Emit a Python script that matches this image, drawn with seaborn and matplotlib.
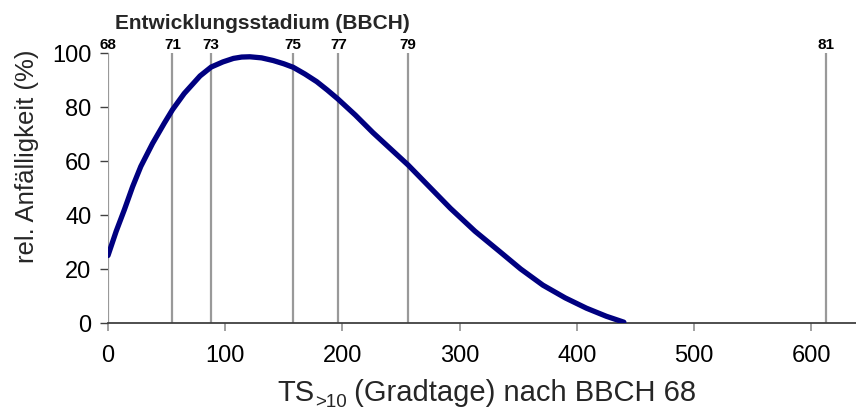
import matplotlib
matplotlib.use("Agg")
import matplotlib.pyplot as plt
import matplotlib.transforms as mtransforms
import seaborn as sns
import pandas as pd

# Data
ts_x = [0, 7, 14, 21, 28, 38, 48, 55, 65, 78.5, 88, 98, 107, 114, 121, 131, 141, 150,
        158, 168, 178, 187, 196, 211, 226, 241, 256, 274, 292, 313, 334, 352, 371,
        390, 408, 425, 440]
anf_y = [25, 34, 42, 50.5, 58, 66.5, 74, 79, 85, 91.5, 94.8, 96.7, 98, 98.5, 98.6, 98.2,
         97.2, 96, 94.7, 92.2, 89.4, 86.3, 83, 77, 70.5, 64.5, 58.5, 50.5, 42.5, 34,
         26.5, 20, 14, 9.3, 5.5, 2.5, 0.3]

bbch_labels = ["68", "71", "73", "75", "77", "79", "81"]
bbch_pos = [0, 55, 88, 158, 196.5, 256, 612.5]

x_ticks = [0, 100, 200, 300, 400, 500, 600]
y_ticks = [0, 20, 40, 60, 80, 100]

sns.set_style("white")
plt.rcParams["font.family"] = ["Liberation Sans", "DejaVu Sans"]

W, H = 856, 412
fig = plt.figure(figsize=(W / 100, H / 100), dpi=100)
ax = fig.add_axes([108 / W, (H - 323) / H, (856 - 108) / W, 270 / H])

# BBCH vertical lines
for pos in bbch_pos:
    ax.axvline(pos, ymin=0, ymax=1, color="#999999", lw=1.6, zorder=1)
trans = mtransforms.blended_transform_factory(ax.transData, ax.transAxes)
for pos, lab in zip(bbch_pos, bbch_labels):
    ax.text(pos, 1.005, lab, transform=trans, ha="center", va="bottom",
            fontsize=11, fontweight="bold", color="black")

df = pd.DataFrame({"x": ts_x, "y": anf_y})
sns.lineplot(data=df, x="x", y="y", ax=ax, color="#000080", lw=3.8, zorder=3,
             solid_capstyle="round", solid_joinstyle="round")

ax.set_xlim(0, 638)
ax.set_ylim(0, 100)
ax.set_xticks(x_ticks)
ax.set_yticks(y_ticks)
ax.set_xlabel("")
ax.set_ylabel("")

for s in ["top", "right", "left"]:
    ax.spines[s].set_visible(False)
ax.spines["bottom"].set_color("#404040")
ax.spines["bottom"].set_linewidth(1.3)
ax.spines["bottom"].set_zorder(2)

ax.tick_params(axis="x", which="major", direction="out", length=6, width=1.3,
               color="#999999", labelsize=17, pad=10, bottom=True, labelcolor="black")
ax.tick_params(axis="y", which="major", direction="out", length=6, width=1.0,
               color="#404040", labelsize=17, pad=6, left=True, labelcolor="black")
ax.grid(False)

fig.text(262 / W, (H - 29) / H, "Entwicklungsstadium (BBCH)", ha="center", va="baseline",
         fontsize=15, fontweight="bold")
fig.text(27 / W, (H - 156) / H, "rel. Anfälligkeit (%)", rotation=90, ha="center",
         va="center", fontsize=18.5)

# x-axis label with subscript, built from pieces
t1 = fig.text(277 / W, (H - 401) / H, "TS", ha="left", va="baseline", fontsize=21)
t2 = fig.text(0, 0, ">10", ha="left", va="baseline", fontsize=13.5)
t3 = fig.text(0, 0, " (Gradtage) nach BBCH 68", ha="left", va="baseline", fontsize=21)
fig.canvas.draw()
r = fig.canvas.get_renderer()
bb1 = t1.get_window_extent(r)
t2.set_position((bb1.x1 / W + 0.5 / W, (H - 407) / H))
fig.canvas.draw()
bb2 = t2.get_window_extent(r)
t3.set_position((bb2.x1 / W, (H - 401) / H))

fig.savefig("out.png", dpi=100, facecolor="white")
